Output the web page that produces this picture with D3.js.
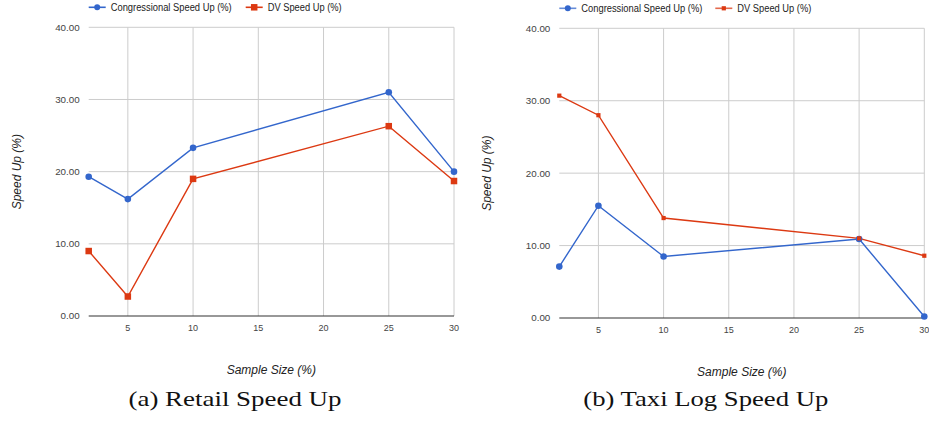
<!DOCTYPE html>
<html>
<head>
<meta charset="utf-8">
<script src="https://cdn.jsdelivr.net/npm/d3@7"></script>
<style>
  body { margin: 0; background: #fff; }
  svg { display: block; }
</style>
</head>
<body>
<div id="chart"></div>
<script>
const sampleSizes = [2, 5, 10, 25, 30];
const retailCongressional = [19.3, 16.2, 23.3, 31.0, 20.0];
const retailDV = [9.0, 2.7, 19.0, 26.3, 18.7];
const taxiCongressional = [7.1, 15.5, 8.5, 10.9, 0.2];
const taxiDV = [30.7, 28.0, 13.8, 11.0, 8.6];
const xTicks = [5, 10, 15, 20, 25, 30];
const yTicks = [0, 10, 20, 30, 40];
const seriesNames = ["Congressional Speed Up (%)", "DV Speed Up (%)"];
const captions = ["(a) Retail Speed Up", "(b) Taxi Log Speed Up"];

const width = 929;
const height = 422;
const blue = "#3366cc";
const red = "#dc3912";
const sans = "'Liberation Sans', Arial, sans-serif";

const svg = d3
  .select("#chart")
  .append("svg")
  .attr("width", width)
  .attr("height", height);

// one panel per dataset
function drawPanel(conf) {
  const g = svg.append("g");

  const x = d3.scaleLinear().domain([2, 30]).range([conf.left, conf.right]);
  const y = d3.scaleLinear().domain([0, 40]).range([conf.bottom, conf.top]);

  // grid
  g.append("g")
    .selectAll("line")
    .data(xTicks)
    .enter()
    .append("line")
    .attr("x1", (d) => x(d))
    .attr("x2", (d) => x(d))
    .attr("y1", y(0))
    .attr("y2", y(40))
    .attr("stroke", "#cccccc");

  g.append("g")
    .selectAll("line")
    .data(yTicks.filter((d) => d > 0))
    .enter()
    .append("line")
    .attr("x1", x(2))
    .attr("x2", x(30))
    .attr("y1", (d) => y(d))
    .attr("y2", (d) => y(d))
    .attr("stroke", "#cccccc");

  // baseline
  g.append("line")
    .attr("x1", x(2))
    .attr("x2", x(30))
    .attr("y1", y(0))
    .attr("y2", y(0))
    .attr("stroke", "#333333")
    .attr("stroke-width", 1.2);

  // y tick labels
  g.append("g")
    .selectAll("text")
    .data(yTicks)
    .enter()
    .append("text")
    .attr("x", x(2) - 9)
    .attr("y", (d) => y(d))
    .attr("dy", "0.35em")
    .attr("text-anchor", "end")
    .attr("font-family", sans)
    .attr("font-size", 9.8)
    .attr("fill", "#444")
    .text((d) => d3.format(".2f")(d));

  // x tick labels
  g.append("g")
    .selectAll("text")
    .data(xTicks)
    .enter()
    .append("text")
    .attr("x", (d) => x(d))
    .attr("y", y(0) + 15)
    .attr("text-anchor", "middle")
    .attr("font-family", sans)
    .attr("font-size", 9)
    .attr("fill", "#444")
    .text((d) => d);

  // axis titles
  g.append("text")
    .attr("x", (conf.left + conf.right) / 2)
    .attr("y", conf.bottom + 58)
    .attr("text-anchor", "middle")
    .attr("font-family", sans)
    .attr("font-style", "italic")
    .attr("font-size", 12)
    .attr("fill", "#222")
    .text("Sample Size (%)");

  g.append("text")
    .attr(
      "transform",
      `translate(${conf.left - 68},${(conf.top + conf.bottom) / 2}) rotate(-90)`
    )
    .attr("text-anchor", "middle")
    .attr("font-family", sans)
    .attr("font-style", "italic")
    .attr("font-size", 12)
    .attr("fill", "#222")
    .text("Speed Up (%)");

  // lines
  const line = d3
    .line()
    .x((d, i) => x(sampleSizes[i]))
    .y((d) => y(d));

  g.append("path")
    .datum(conf.congressional)
    .attr("d", line)
    .attr("fill", "none")
    .attr("stroke", blue)
    .attr("stroke-width", 1.4);

  g.append("path")
    .datum(conf.dv)
    .attr("d", line)
    .attr("fill", "none")
    .attr("stroke", red)
    .attr("stroke-width", 1.4);

  g.append("g")
    .selectAll("circle")
    .data(conf.congressional)
    .enter()
    .append("circle")
    .attr("cx", (d, i) => x(sampleSizes[i]))
    .attr("cy", (d) => y(d))
    .attr("r", 3.3)
    .attr("fill", blue);

  const s = conf.square;
  g.append("g")
    .selectAll("rect")
    .data(conf.dv)
    .enter()
    .append("rect")
    .attr("x", (d, i) => x(sampleSizes[i]) - s / 2)
    .attr("y", (d) => y(d) - s / 2)
    .attr("width", s)
    .attr("height", s)
    .attr("fill", red);

  // legend
  const leg = g.append("g").attr("transform", `translate(${conf.left},${conf.legendY})`);
  const items = [
    { name: seriesNames[0], color: blue, dx: 0, marker: "circle", w: 121 },
    { name: seriesNames[1], color: red, dx: conf.legendGap, marker: "rect", w: 74 },
  ];
  items.forEach((it) => {
    const li = leg.append("g").attr("transform", `translate(${it.dx},0)`);
    li.append("line")
      .attr("x1", 0)
      .attr("x2", 17)
      .attr("stroke", it.color)
      .attr("stroke-width", 1.6)
      .attr("opacity", conf.legendOpacity);
    if (it.marker === "circle") {
      li.append("circle").attr("cx", 8.5).attr("r", 3).attr("fill", it.color);
    } else {
      li.append("rect")
        .attr("x", 8.5 - s / 2)
        .attr("y", -s / 2)
        .attr("width", s)
        .attr("height", s)
        .attr("fill", it.color);
    }
    li.append("text")
      .attr("x", 22)
      .attr("dy", "0.35em")
      .attr("font-family", sans)
      .attr("font-size", 10)
      .attr("textLength", it.w)
      .attr("lengthAdjust", "spacingAndGlyphs")
      .attr("fill", "#222")
      .text(it.name);
  });

  // caption
  svg.append("text")
    .attr("x", conf.captionX)
    .attr("y", 406)
    .attr("text-anchor", "middle")
    .attr("font-family", "'Liberation Serif', 'DejaVu Serif', serif")
    .attr("font-size", 22)
    .attr("textLength", conf.captionW)
    .attr("lengthAdjust", "spacingAndGlyphs")
    .attr("fill", "#111")
    .text(conf.caption);
}

drawPanel({
  left: 88.7,
  right: 454,
  top: 27.3,
  bottom: 316,
  congressional: retailCongressional,
  dv: retailDV,
  square: 6.5,
  legendY: 7.3,
  legendGap: 157,
  legendOpacity: 1,
  caption: captions[0],
  captionX: 235,
  captionW: 213,
});

drawPanel({
  left: 559.3,
  right: 924.3,
  top: 28.3,
  bottom: 318,
  congressional: taxiCongressional,
  dv: taxiDV,
  square: 4.2,
  legendY: 8.3,
  legendGap: 156,
  legendOpacity: 0.75,
  caption: captions[1],
  captionX: 705.8,
  captionW: 245,
});
</script>
</body>
</html>
